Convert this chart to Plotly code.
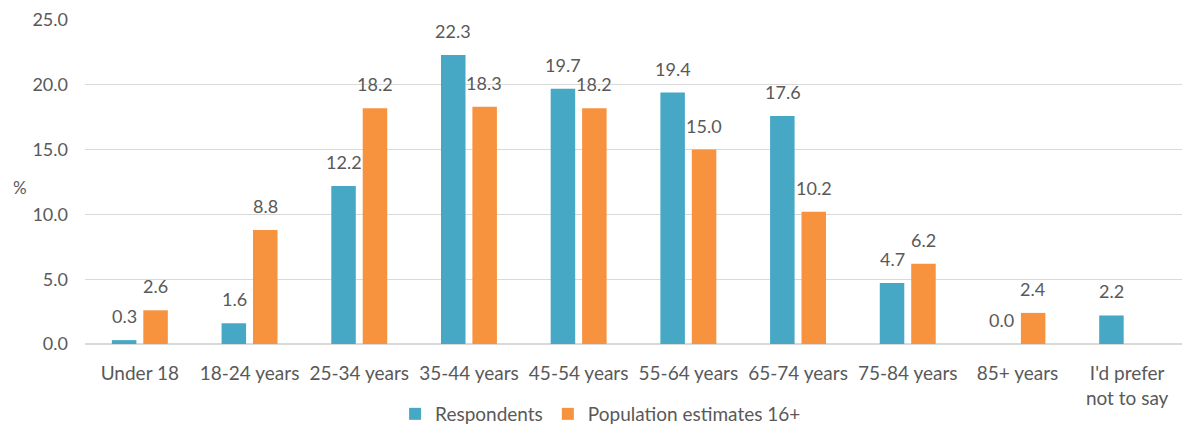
import plotly.graph_objects as go

categories = ["Under 18", "18-24 years", "25-34 years", "35-44 years", "45-54 years",
              "55-64 years", "65-74 years", "75-84 years", "85+ years",
              "I'd prefer<br>not to say"]
respondents = [0.3, 1.6, 12.2, 22.3, 19.7, 19.4, 17.6, 4.7, 0.0, 2.2]
population_16plus = [2.6, 8.8, 18.2, 18.3, 18.2, 15.0, 10.2, 6.2, 2.4, None]
y_ticks = [0, 5, 10, 15, 20, 25]

BLUE = "#46A8C5"
ORANGE = "#F7923F"
TEXT = "#595959"
FONT = "Lato"

fig = go.Figure()
fig.add_trace(go.Bar(x=categories, y=respondents, name="Respondents",
                     marker=dict(color=BLUE, line=dict(width=0))))
fig.add_trace(go.Bar(x=categories, y=population_16plus, name="Population estimates 16+",
                     marker=dict(color=ORANGE, line=dict(width=0))))

# value labels sitting a little above each bar
annotations = []
for series, shift in ((respondents, -15.5), (population_16plus, 15.5)):
    for cat, v in zip(categories, series):
        if v is None:
            continue
        annotations.append(dict(x=cat, y=v, xref="x", yref="y", text=f"{v:.1f}",
                                showarrow=False, yanchor="bottom", xanchor="center",
                                xshift=shift, yshift=11,
                                font=dict(family=FONT, size=18, color=TEXT)))

# axis unit label
annotations.append(dict(x=-0.059, y=12.1, xref="paper", yref="y", text="%",
                        showarrow=False, xanchor="center", yanchor="middle",
                        font=dict(family=FONT, size=17, color=TEXT)))

fig.update_layout(
    width=1188, height=428,
    margin=dict(l=85, r=6, t=20, b=84, autoexpand=False),
    plot_bgcolor="white", paper_bgcolor="white",
    barmode="group", bargap=0.427, bargroupgap=0.22,
    font=dict(family=FONT, size=18, color=TEXT),
    annotations=annotations,
    legend=dict(orientation="h", x=0.47, xanchor="center", y=-0.216, yanchor="middle",
                font=dict(family=FONT, size=19, color=TEXT), itemclick=False),
    showlegend=True,
)
fig.update_xaxes(showgrid=False, showline=True, linecolor="#D9D9D9", linewidth=1,
                 ticks="", ticklabelstandoff=12, automargin=False,
                 tickfont=dict(family=FONT, size=19, color=TEXT))
fig.update_yaxes(range=[0, 25], tickvals=y_ticks, tickformat=".1f",
                 showgrid=True, gridcolor="#D9D9D9", gridwidth=1,
                 zeroline=True, zerolinecolor="#D9D9D9", showline=False,
                 ticks="", ticklabelstandoff=16, automargin=False,
                 tickfont=dict(family=FONT, size=18, color=TEXT))

fig.write_html("out.html")
